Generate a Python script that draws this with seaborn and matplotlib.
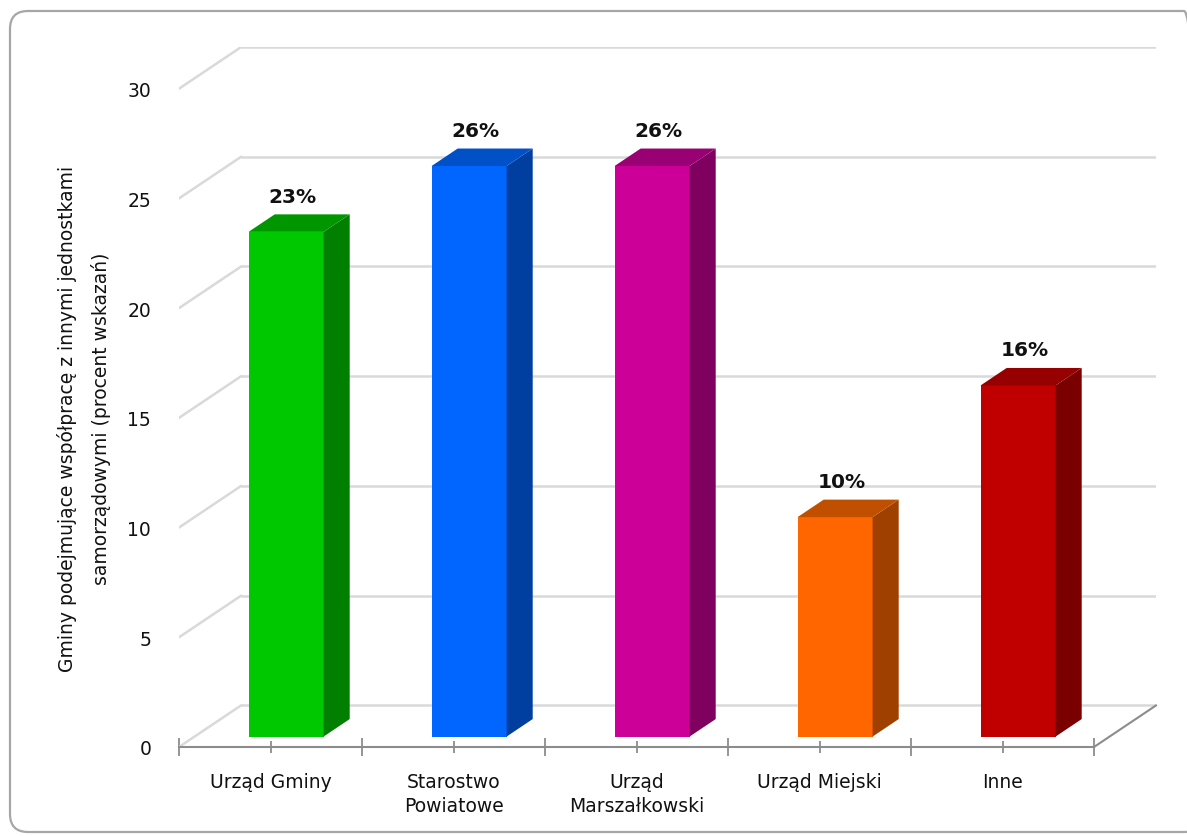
import matplotlib
matplotlib.use("Agg")
import matplotlib.pyplot as plt
import matplotlib.transforms as mtransforms
from matplotlib.patches import Polygon, FancyBboxPatch
import seaborn as sns
import pandas as pd

# ---- data ----
categories = ["Urząd Gminy", "Starostwo\nPowiatowe", "Urząd\nMarszałkowski", "Urząd Miejski", "Inne"]
values = [23, 26, 26, 10, 16]
value_labels = ["23%", "26%", "26%", "10%", "16%"]
y_ticks = [0, 5, 10, 15, 20, 25, 30]
y_title = "Gminy podejmujące współpracę z innymi jednostkami\nsamorządowymi (procent wskazań)"

front_colors = ["#00C800", "#0066FF", "#CC0099", "#FF6600", "#C00000"]
top_colors = ["#009600", "#0050C8", "#990073", "#C05000", "#960000"]
side_colors = ["#007F00", "#003FA0", "#7F005F", "#A04000", "#7A0000"]

# ---- pseudo-3D geometry (data units) ----
DX, DY = 0.34, 1.9        # depth vector of the floor
BAR_POS = 0.25            # depth where the bar front face sits
BAR_DEPTH = 0.42          # bar depth as a fraction of the floor depth
BAR_WIDTH = 0.41

sns.set_style("white")
plt.rcParams["font.family"] = ["DejaVu Sans"]

W, H = 1187, 837
fig = plt.figure(figsize=(W / 100, H / 100), dpi=100)
fig.patch.set_facecolor("white")

n = len(categories)
x_left, x_right = -0.5, n - 0.5 + DX
y_top = y_ticks[-1] + DY
px_per_cat = 183.0
ax_left_px, ax_bottom_px = 179, 837 - 748
ax_w_px = (x_right - x_left) * px_per_cat
ax_h_px = 700
ax = fig.add_axes([ax_left_px / W, ax_bottom_px / H, ax_w_px / W, ax_h_px / H])
ax.set_facecolor("none")

# outer rounded frame
frame = FancyBboxPatch((0.10, 0.04), 11.92, 8.21,
                       boxstyle="round,pad=0,rounding_size=0.18",
                       transform=fig.dpi_scale_trans, fill=False,
                       edgecolor="#A6A6A6", linewidth=1.6, zorder=0)
fig.patches.append(frame)

df = pd.DataFrame({"category": categories, "value": values})
sns.barplot(data=df, x="category", y="value", hue="category",
            palette=front_colors, width=BAR_WIDTH, legend=False,
            saturation=1, ax=ax, zorder=5)

ax.set_xlim(x_left, x_right)
ax.set_ylim(0, y_top)

# back wall gridlines with left-wall diagonals
grid_c = "#D9D9D9"
for v in y_ticks:
    ax.plot([x_left + DX, n - 0.5 + DX], [v + DY, v + DY], color=grid_c, lw=1.8, zorder=1,
            solid_capstyle="butt")
    ax.plot([x_left, x_left + DX], [v, v + DY], color=grid_c, lw=1.8, zorder=1)

# right edge of the floor
axis_c = "#8C8C8C"
ax.plot([n - 0.5, n - 0.5 + DX], [0, DY], color=axis_c, lw=1.5, zorder=2, clip_on=False)

# bars: front faces shifted into depth, plus side and top faces
shift = mtransforms.Affine2D().translate(BAR_POS * DX, BAR_POS * DY) + ax.transData
dx, dy = BAR_DEPTH * DX, BAR_DEPTH * DY
for i, patch in enumerate(ax.patches):
    patch.set_transform(shift)
    patch.set_edgecolor("none")
    x0 = patch.get_x() + BAR_POS * DX
    x1 = x0 + patch.get_width()
    b = patch.get_y() + BAR_POS * DY
    t = b + patch.get_height()
    side = Polygon([(x1, b), (x1 + dx, b + dy), (x1 + dx, t + dy), (x1, t)],
                   closed=True, facecolor=side_colors[i], edgecolor="none", zorder=5)
    top = Polygon([(x0, t), (x1, t), (x1 + dx, t + dy), (x0 + dx, t + dy)],
                  closed=True, facecolor=top_colors[i], edgecolor="none", zorder=5)
    ax.add_patch(side)
    ax.add_patch(top)

for i, (v, lab) in enumerate(zip(values, value_labels)):
    ax.text(i + 0.12, v + 2.1, lab, ha="center", va="center",
            fontsize=14.5, fontweight="bold", color="#111111", zorder=6)

# axes styling
for s in ["top", "right", "left"]:
    ax.spines[s].set_visible(False)
ax.spines["bottom"].set_bounds(-0.5, n - 0.5)
ax.spines["bottom"].set_color(axis_c)
ax.spines["bottom"].set_linewidth(1.5)

ax.set_xticks(range(n))
ax.set_xticklabels(categories, fontsize=13.5, color="#111111", linespacing=1.35)
ax.set_xticks([k - 0.5 for k in range(n + 1)], minor=True)
ax.tick_params(axis="x", which="both", bottom=True)
ax.tick_params(axis="x", which="major", direction="inout", length=8, width=1.3,
               color=axis_c, pad=14)
ax.tick_params(axis="x", which="minor", direction="inout", length=13, width=1.3,
               color=axis_c)
ax.set_xlabel("")

ax.set_yticks(y_ticks)
ax.set_yticklabels([str(v) for v in y_ticks], fontsize=13.5, color="#111111")
ax.tick_params(axis="y", left=False, length=0, pad=20)
ax.set_ylabel(y_title, fontsize=13.5, color="#111111", linespacing=1.85)
ax.yaxis.set_label_coords(-0.07, 0.47)
ax.grid(False)

fig.savefig("out.png", dpi=100, facecolor="white")
